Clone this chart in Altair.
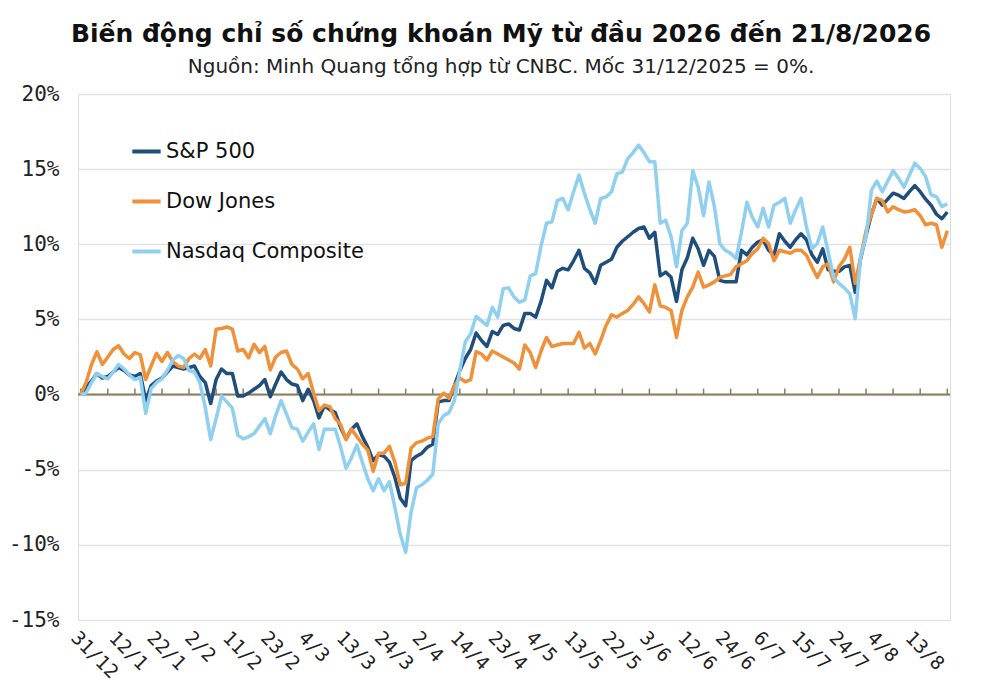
import altair as alt
import pandas as pd

# ---- Trading-day labels (US market, 31/12/2025 .. 21/8/2026) ----
HOLIDAYS = ["2026-01-01", "2026-01-19", "2026-02-16", "2026-04-03",
            "2026-05-25", "2026-06-19", "2026-07-03"]
_days = [d for d in pd.bdate_range("2025-12-31", "2026-08-21")
         if d.strftime("%Y-%m-%d") not in HOLIDAYS]
DATES = [f"{d.day}/{d.month}" for d in _days]

TICK_LABELS = ["31/12", "12/1", "22/1", "2/2", "11/2", "23/2", "4/3", "13/3",
               "24/3", "2/4", "14/4", "23/4", "4/5", "13/5", "22/5", "3/6",
               "12/6", "24/6", "6/7", "15/7", "24/7", "4/8", "13/8"]

SERIES = ["S&P 500", "Dow Jones", "Nasdaq Composite"]
COLORS = ["#1F4E7A", "#F0913A", "#8FD0F0"]

SP500 = [0, 0.5, 0.9, 1.4, 1.1, 1.2, 1.5, 1.8, 1.6, 1.3,
         1.2, 1.4, -0.4, 0.6, 0.9, 1.1, 1.5, 1.9, 1.8, 1.7,
         1.8, 1.9, 1.2, 0.8, -0.6, 1.0, 1.7, 1.4, 1.4, -0.1,
         -0.1, 0.1, 0.35, 0.6, 1.0, -0.15, 0.7, 1.5, 1.0, 0.7,
         0.6, -0.4, 0.35, -0.4, -1.55, -0.75, -1.0, -1.2, -2.2, -2.95,
         -2.3, -1.95, -2.8, -3.5, -4.4, -4.0, -4.1, -4.5, -5.5, -6.9,
         -7.4, -4.4, -4.1, -3.9, -3.5, -3.3, -0.5, -0.4, -0.4, 0.6,
         1.6, 2.4, 3.0, 4.1, 3.6, 3.2, 4.2, 4.0, 4.6, 4.7,
         4.4, 4.3, 5.4, 5.4, 5.15, 6.2, 7.6, 7.1, 8.2, 8.4,
         8.3, 8.9, 9.6, 8.4, 8.1, 7.4, 8.6, 8.8, 9.0, 9.8,
         10.2, 10.5, 10.8, 11.05, 11.15, 10.4, 10.8, 7.9, 8.15, 7.8,
         6.2, 8.3, 9.1, 10.4, 9.7, 8.6, 9.6, 9.2, 7.6, 7.5,
         7.5, 7.5, 9.6, 9.3, 9.8, 10.15, 10.3, 9.6, 9.27, 10.7,
         10.2, 9.8, 10.3, 10.7, 10.3, 9.3, 8.8, 9.7, 8.3, 8.2,
         8.2, 8.5, 8.6, 6.8, 9.05, 10.6, 12.0, 13.05, 12.6, 13.0,
         13.4, 13.27, 13.05, 13.5, 13.9, 13.5, 13.0, 12.6, 12.0, 11.7,
         12.15]

DOW = [0, 0.8, 2.0, 2.85, 2.0, 2.5, 3.0, 3.25, 2.7, 2.4,
       2.8, 2.65, 1.0, 1.9, 2.75, 2.2, 2.8, 2.2, 1.9, 1.8,
       2.4, 2.7, 2.4, 3.0, 1.9, 4.35, 4.4, 4.5, 4.35, 2.9,
       3.0, 2.45, 3.35, 2.8, 3.2, 1.65, 2.5, 2.8, 2.9, 2.0,
       1.7, 1.05, 1.4, 0.1, -1.07, -0.7, -0.8, -1.6, -2.0, -3.0,
       -2.3, -2.8, -3.3, -3.7, -5.1, -3.9, -3.9, -3.45, -4.5, -6.0,
       -5.9, -3.55, -3.2, -3.1, -2.9, -2.8, -0.3, 0.1, -0.25, 0.6,
       1.1, 0.85, 1.0, 2.85, 2.7, 2.3, 2.9, 2.7, 2.5, 2.3,
       2.1, 1.7, 3.3, 2.8, 1.8, 2.9, 3.8, 3.2, 3.3, 3.4,
       3.4, 3.4, 4.15, 3.1, 3.4, 2.7, 3.6, 4.6, 5.3, 5.15,
       5.4, 5.6, 6.0, 6.5, 6.05, 5.5, 7.3, 5.9, 5.8, 5.6,
       3.8, 5.6, 6.5, 7.15, 8.15, 7.15, 7.3, 7.5, 7.8, 7.9,
       8.0, 8.5, 8.7, 8.9, 9.4, 9.7, 10.4, 10.05, 8.9, 9.6,
       9.5, 9.4, 9.6, 9.6, 9.27, 8.5, 7.8, 8.5, 8.7, 7.5,
       8.5, 9.0, 9.8, 7.4, 9.15, 10.9, 12.0, 13.05, 12.9, 12.15,
       12.5, 12.3, 12.15, 12.2, 12.3, 11.9, 11.3, 11.4, 11.3, 9.8,
       10.9]

NASDAQ = [0, 0.1, 0.8, 1.4, 1.2, 1.05, 1.5, 2.0, 1.7, 1.3,
          1.0, 1.15, -1.25, 0.4, 0.8, 1.05, 1.6, 2.3, 2.6, 2.4,
          1.6, 1.5, 0.8, -0.85, -3.0, -1.6, -0.1, -0.5, -0.9, -2.7,
          -2.95, -2.8, -2.6, -2.1, -1.6, -2.6, -1.4, -0.4, -1.3, -2.2,
          -2.3, -3.1, -2.5, -1.95, -3.65, -2.3, -2.3, -2.3, -3.5, -4.9,
          -4.2, -3.35, -4.5, -5.6, -6.4, -5.6, -6.4, -5.8, -7.5, -9.3,
          -10.5, -7.8, -6.2, -6.0, -5.7, -5.3, -1.95, -1.4, -1.2, -0.4,
          1.6, 3.5, 4.05, 5.2, 4.9, 4.6, 5.8, 5.15, 7.05, 7.1,
          6.5, 6.15, 6.3, 7.9, 8.05, 9.9, 11.4, 11.5, 12.9, 13.05,
          12.3, 13.5, 14.6, 13.4, 12.3, 11.4, 13.05, 13.15, 13.5, 14.7,
          14.8, 15.7, 16.1, 16.6, 16.1, 15.5, 15.5, 11.4, 11.6, 10.5,
          8.5, 10.9, 11.4, 14.9, 13.8, 11.9, 14.15, 12.5, 10.05, 9.6,
          9.4, 9.05, 10.8, 12.8, 11.8, 11.15, 12.4, 11.15, 12.6, 12.8,
          13.05, 11.4, 12.3, 13.05, 11.15, 9.7, 10.05, 11.15, 9.5, 7.8,
          7.4, 7.1, 6.7, 5.05, 9.15, 10.5, 13.6, 14.2, 13.5, 14.2,
          14.9, 14.4, 13.8, 14.6, 15.4, 15.05, 14.5, 13.3, 13.15, 12.5,
          12.7]

Y_TICKS = [-15, -10, -5, 0, 5, 10, 15, 20]

assert len(DATES) == len(SP500) == len(DOW) == len(NASDAQ) == 161

rows = []
for k, (name, vals) in enumerate(zip(SERIES, [SP500, DOW, NASDAQ])):
    for d, v in zip(DATES, vals):
        rows.append({"date": d, "series": name, "value": v})
df = pd.DataFrame(rows)

xscale = alt.Scale(domain=DATES, padding=0)
yscale = alt.Scale(domain=[-15, 20], nice=False, zero=False)

base_x_axis = alt.Axis(
    values=TICK_LABELS, labelAngle=45, labelAlign="left", labelBaseline="top",
    labelFont="DejaVu Sans Mono", labelFontSize=19, labelColor="#222222",
    labelPadding=8, ticks=False, domain=False, grid=False, title=None,
    labelOverlap=False,
)
y_axis = alt.Axis(
    values=Y_TICKS, labelExpr="datum.value + '%'",
    labelFont="DejaVu Sans Mono", labelFontSize=21, labelColor="#222222",
    labelPadding=19, ticks=False, domain=False, grid=True,
    gridColor="#E2E2E2", gridWidth=1.5, title=None,
)

lines = alt.Chart(df).mark_line(strokeWidth=3.5, strokeJoin="round").encode(
    x=alt.X("date:O", scale=xscale, axis=base_x_axis),
    y=alt.Y("value:Q", scale=yscale, axis=y_axis),
    color=alt.Color(
        "series:N",
        scale=alt.Scale(domain=SERIES, range=COLORS),
        legend=alt.Legend(
            orient="none", legendX=52, legendY=41, title=None,
            symbolType="stroke", symbolSize=800, symbolStrokeWidth=4,
            labelFont="DejaVu Sans", labelFontSize=21, labelColor="#111111",
            labelLimit=0, rowPadding=23, labelOffset=3, padding=0,
        ),
    ),
)

zero_df = pd.DataFrame({"y": [0]})
zero_line = alt.Chart(zero_df).mark_rule(color="#8A7F5A", strokeWidth=2).encode(
    y=alt.Y("y:Q", scale=yscale)
)

tick_df = pd.DataFrame({"date": DATES[::5], "y0": [0] * len(DATES[::5]),
                        "y1": [0.4] * len(DATES[::5])})
ticks = alt.Chart(tick_df).mark_rule(color="#8A7F5A", strokeWidth=1.5).encode(
    x=alt.X("date:O", scale=xscale),
    y=alt.Y("y0:Q", scale=yscale),
    y2="y1:Q",
)

chart = alt.layer(zero_line, ticks, lines).properties(
    width=872,
    height=526,
    padding={"left": 0, "top": 14, "right": 30, "bottom": 5},
    title=alt.TitleParams(
        text="Biến động chỉ số chứng khoán Mỹ từ đầu 2026 đến 21/8/2026",
        subtitle="Nguồn: Minh Quang tổng hợp từ CNBC. Mốc 31/12/2025 = 0%.",
        font="DejaVu Sans", fontSize=25, fontWeight="bold", color="#111111",
        subtitleFont="DejaVu Sans", subtitleFontSize=20, subtitleColor="#222222",
        subtitlePadding=10, anchor="middle", frame="group", dx=-13, offset=6,
    ),
).configure_view(stroke=None).configure(background="white")

chart.save("out.html", embed_options={"renderer": "svg", "actions": False})
